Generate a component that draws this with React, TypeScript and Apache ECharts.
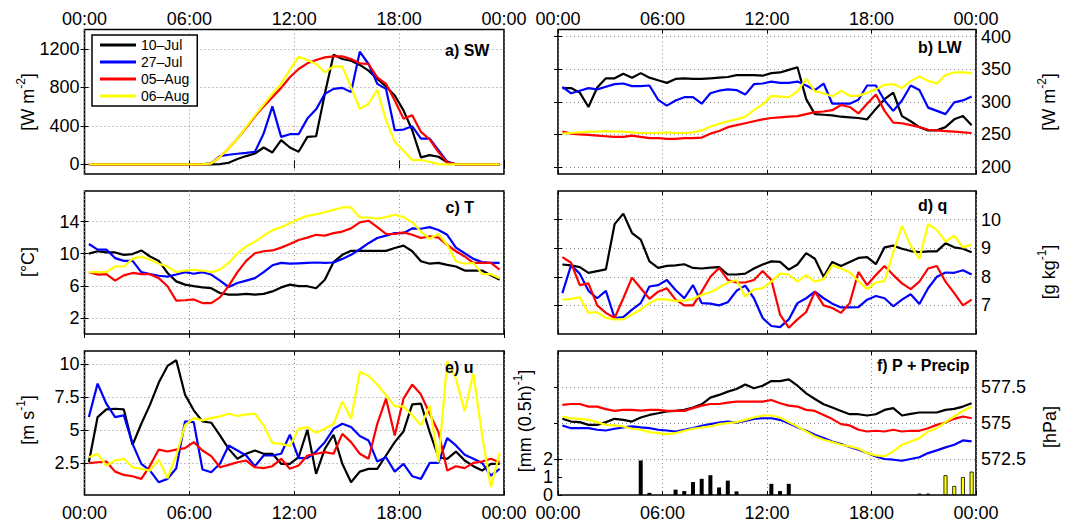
import React, { useEffect, useRef } from 'react';
import * as echarts from 'echarts';

const FONT = "'Liberation Sans', Arial, Helvetica, sans-serif";

const SERIES_NAMES = ['10–Jul', '27–Jul', '05–Aug', '06–Aug'];
const COLORS = ['#000000', '#0000ff', '#ff0000', '#ffff00'];

const TIMES = [0.25, 0.75, 1.25, 1.75, 2.25, 2.75, 3.25, 3.75, 4.25, 4.75, 5.25, 5.75, 6.25, 6.75, 7.25, 7.75,
  8.25, 8.75, 9.25, 9.75, 10.25, 10.75, 11.25, 11.75, 12.25, 12.75, 13.25, 13.75, 14.25, 14.75, 15.25, 15.75,
  16.25, 16.75, 17.25, 17.75, 18.25, 18.75, 19.25, 19.75, 20.25, 20.75, 21.25, 21.75, 22.25, 22.75, 23.25, 23.75];

// a) SW [W m-2]
const SW_10JUL = [0, 0, 0, 0, 0, 0, 0, 0, 0, 0, 0, 0, 0, 0, 0, 3, 17, 55, 86, 113, 175, 124, 251, 175, 131, 285, 292, 732, 1138, 1094, 1076, 1032, 973, 887, 808, 715, 561, 354, 72, 96, 79, 21, 0, 0, 0, 0, 0, 0];
const SW_27JUL = [0, 0, 0, 0, 0, 0, 0, 0, 0, 0, 0, 0, 0, 0, 10, 86, 100, 110, 120, 131, 320, 602, 285, 313, 313, 475, 571, 732, 784, 794, 750, 1169, 1042, 836, 784, 354, 361, 395, 268, 268, 148, 28, 0, 0, 0, 0, 0, 0];
const SW_05AUG = [0, 0, 0, 0, 0, 0, 0, 0, 0, 0, 0, 0, 0, 0, 10, 79, 165, 268, 382, 499, 602, 698, 794, 904, 990, 1049, 1083, 1111, 1121, 1121, 1094, 1049, 1042, 904, 836, 664, 475, 509, 337, 258, 127, 21, 0, 0, 0, 0, 0, 0];
const SW_06AUG = [0, 0, 0, 0, 0, 0, 0, 0, 0, 0, 0, 0, 0, 0, 10, 79, 165, 268, 389, 509, 622, 732, 836, 980, 1118, 1083, 1042, 956, 1018, 1014, 801, 576, 629, 774, 457, 234, 141, 45, 45, 27, 3, 0, 0, 0, 0, 0, 0, 0];

// b) LW [W m-2]
const LW_10JUL = [321, 321, 314, 292, 322, 336, 336, 343, 337, 344, 337, 333, 329, 335, 336, 335, 335, 336, 337, 338, 341, 341, 341, 340, 344, 345, 349, 353, 304, 281, 280, 279, 277, 276, 275, 273, 289, 304, 314, 278, 270, 261, 256, 256, 261, 273, 278, 264];
const LW_27JUL = [323, 313, 317, 321, 319, 323, 327, 328, 324, 324, 325, 303, 294, 302, 307, 307, 297, 313, 317, 319, 318, 311, 327, 328, 331, 329, 329, 331, 325, 318, 328, 297, 297, 297, 303, 325, 325, 302, 286, 302, 325, 318, 291, 286, 281, 299, 302, 308];
const LW_05AUG = [254, 251, 250, 249, 248, 247, 246, 246, 248, 246, 244, 244, 243, 243, 244, 244, 245, 251, 255, 261, 264, 267, 270, 273, 275, 276, 277, 278, 281, 284, 285, 287, 295, 292, 282, 297, 311, 286, 268, 267, 264, 261, 257, 256, 255, 254, 253, 252];
const LW_06AUG = [251, 252, 253, 254, 254, 255, 254, 254, 253, 252, 252, 252, 253, 252, 252, 253, 256, 262, 266, 270, 273, 277, 287, 296, 309, 308, 307, 316, 335, 316, 313, 308, 317, 309, 309, 314, 319, 326, 327, 321, 332, 339, 332, 328, 341, 345, 345, 344];

// c) T [degC]
const T_10JUL = [10.0, 10.3, 10.15, 10.15, 9.85, 9.95, 10.4, 9.65, 9.1, 7.6, 6.55, 6.15, 5.95, 5.8, 5.7, 5.1, 4.9, 4.9, 5.0, 4.9, 5.0, 5.3, 5.8, 6.15, 5.95, 5.95, 5.7, 6.75, 8.95, 9.85, 10.35, 10.35, 10.35, 10.35, 10.35, 10.7, 11.0, 10.3, 9.05, 8.75, 8.85, 8.6, 8.4, 7.9, 7.9, 7.9, 7.3, 6.75];
const T_27JUL = [11.2, 10.5, 10.5, 9.45, 9.1, 9.1, 7.7, 7.45, 7.25, 7.15, 7.4, 7.7, 7.5, 7.7, 7.4, 6.65, 5.85, 6.35, 6.65, 6.95, 7.7, 8.55, 8.85, 8.75, 8.8, 8.85, 8.9, 8.85, 8.9, 9.35, 9.85, 10.55, 11.3, 11.95, 12.25, 12.55, 12.55, 13.15, 13.1, 13.3, 12.95, 12.35, 10.75, 10.05, 9.35, 8.95, 8.85, 8.85];
const T_05AUG = [7.7, 7.4, 7.45, 6.65, 7.3, 7.6, 7.45, 7.45, 6.95, 5.95, 4.15, 4.2, 4.3, 3.85, 3.85, 4.55, 6.0, 7.7, 9.1, 10.05, 10.3, 10.4, 10.75, 11.2, 11.7, 12.0, 12.35, 12.25, 12.55, 12.75, 13.15, 13.9, 14.1, 13.3, 12.45, 12.45, 12.65, 12.35, 11.95, 12.15, 12.0, 11.1, 10.3, 9.65, 8.85, 8.85, 8.85, 8.0];
const T_06AUG = [7.7, 7.7, 7.7, 8.4, 8.4, 9.35, 9.65, 9.25, 8.75, 8.4, 7.7, 7.9, 8.0, 7.9, 7.7, 8.0, 8.85, 10.05, 10.9, 11.5, 12.25, 12.9, 13.3, 13.8, 14.3, 14.7, 14.9, 15.15, 15.45, 15.75, 15.75, 14.5, 14.5, 14.35, 14.55, 14.85, 14.55, 13.9, 12.75, 11.85, 12.45, 11.1, 9.05, 8.75, 8.85, 7.45, 7.45, 6.95];

// d) q [g kg-1]
const Q_10JUL = [8.43, 8.4, 8.34, 8.14, 8.2, 8.26, 9.84, 10.21, 9.53, 9.3, 8.54, 8.31, 8.38, 8.4, 8.44, 8.31, 8.29, 8.32, 8.34, 8.08, 8.08, 8.11, 8.29, 8.43, 8.54, 8.52, 8.25, 8.43, 8.83, 8.63, 8.0, 8.52, 8.38, 8.52, 8.66, 8.69, 8.44, 9.03, 9.09, 8.98, 8.9, 8.86, 8.89, 8.89, 9.17, 9.03, 8.98, 8.86];
const Q_27JUL = [7.43, 8.4, 8.11, 7.51, 7.25, 7.51, 6.56, 6.59, 6.85, 7.08, 7.66, 7.71, 7.89, 7.54, 7.25, 7.71, 7.08, 7.06, 7.0, 7.11, 7.51, 7.69, 7.25, 6.56, 6.28, 6.24, 6.51, 7.08, 7.25, 7.48, 7.25, 7.06, 6.93, 6.93, 6.94, 7.2, 7.33, 7.25, 6.97, 7.2, 7.39, 7.05, 7.6, 8.0, 8.15, 8.14, 8.23, 8.08];
const Q_05AUG = [8.69, 8.49, 7.71, 7.77, 7.0, 6.74, 6.56, 7.25, 7.97, 7.6, 7.23, 7.48, 7.6, 7.2, 7.0, 7.0, 7.48, 8.0, 8.31, 7.89, 7.8, 7.8, 7.89, 8.2, 7.89, 6.68, 6.22, 6.51, 6.77, 7.48, 7.0, 6.91, 6.74, 7.08, 8.17, 7.71, 8.06, 8.38, 8.06, 7.77, 7.57, 7.83, 8.29, 8.38, 7.83, 7.43, 7.0, 7.2];
const Q_06AUG = [7.2, 7.23, 7.28, 6.74, 6.76, 6.56, 6.51, 6.51, 6.68, 6.85, 7.08, 7.22, 7.2, 7.16, 7.17, 7.22, 7.37, 7.46, 7.62, 7.8, 7.89, 7.31, 7.56, 7.6, 7.83, 8.11, 8.08, 7.83, 8.06, 7.83, 7.92, 8.4, 8.29, 8.15, 7.85, 7.57, 7.8, 7.85, 8.86, 9.78, 9.09, 8.63, 9.84, 9.64, 9.23, 9.44, 9.03, 9.13];

// e) u [m s-1]
const U_10JUL = [2.58, 6.0, 6.58, 6.63, 6.58, 3.9, 5.49, 6.94, 8.61, 9.87, 10.3, 7.7, 6.51, 5.67, 5.57, 4.61, 3.59, 2.84, 3.22, 3.47, 3.22, 3.22, 2.46, 2.46, 2.96, 5.04, 1.7, 3.59, 4.66, 2.46, 1.06, 1.87, 2.08, 2.08, 3.09, 4.1, 4.91, 6.96, 7.01, 4.86, 2.96, 2.84, 3.39, 2.71, 2.28, 1.95, 2.46, 2.46];
const U_27JUL = [6.0, 8.53, 7.01, 6.0, 6.13, 3.97, 2.46, 1.95, 1.06, 1.32, 2.13, 5.67, 5.62, 2.03, 1.82, 2.46, 3.85, 3.47, 3.09, 2.28, 3.09, 3.09, 3.22, 4.66, 2.89, 2.89, 3.39, 4.1, 5.11, 5.49, 5.24, 4.56, 4.23, 2.63, 2.96, 1.87, 2.46, 1.52, 1.32, 2.53, 2.53, 4.41, 3.85, 3.14, 2.84, 2.53, 1.57, 2.08];
const U_05AUG = [2.51, 2.58, 2.63, 1.87, 1.62, 1.52, 1.32, 2.33, 3.54, 3.39, 3.54, 3.65, 4.1, 3.47, 3.04, 2.2, 2.38, 2.58, 2.71, 2.2, 2.13, 2.28, 2.84, 2.08, 2.33, 3.09, 3.22, 3.34, 3.22, 4.73, 4.1, 3.22, 2.84, 5.49, 7.39, 4.61, 7.39, 8.46, 7.7, 6.25, 4.86, 1.95, 2.28, 2.13, 2.53, 2.63, 2.84, 2.58];
const U_06AUG = [2.96, 3.22, 2.33, 2.71, 2.84, 2.2, 2.08, 1.95, 2.78, 1.37, 3.09, 5.37, 5.92, 5.75, 5.92, 6.05, 6.25, 6.08, 6.2, 6.25, 5.37, 4.03, 3.97, 3.8, 5.11, 5.24, 4.81, 5.11, 5.49, 7.19, 5.87, 9.42, 9.11, 8.46, 7.65, 6.81, 6.81, 6.13, 5.37, 6.84, 2.58, 10.23, 8.91, 6.43, 9.29, 4.61, 0.68, 3.27];

// f) P [hPa]
const P_10JUL = [575.29, 575.1, 575.06, 574.87, 574.87, 575.06, 575.29, 575.22, 575.1, 575.38, 575.56, 575.68, 575.8, 575.84, 575.91, 576.07, 576.3, 576.76, 576.95, 577.18, 577.36, 577.68, 577.41, 577.59, 577.91, 577.91, 578.03, 577.59, 577.06, 576.67, 576.3, 576.07, 575.84, 575.61, 575.61, 575.52, 575.61, 575.91, 576.03, 575.52, 575.63, 575.73, 575.73, 575.73, 575.91, 575.98, 576.14, 576.37];
const P_27JUL = [574.83, 574.64, 574.64, 574.64, 574.53, 574.48, 574.6, 574.69, 574.76, 574.69, 574.64, 574.53, 574.48, 574.41, 574.53, 574.64, 574.8, 574.92, 575.03, 575.1, 575.03, 575.15, 575.29, 575.33, 575.33, 575.22, 574.99, 574.71, 574.46, 574.18, 573.95, 573.72, 573.54, 573.33, 573.15, 572.91, 572.68, 572.5, 572.45, 572.38, 572.5, 572.62, 572.91, 573.1, 573.31, 573.49, 573.79, 573.72];
const P_05AUG = [576.26, 576.32, 576.32, 576.14, 576.14, 575.96, 575.84, 575.91, 575.91, 575.86, 575.91, 575.91, 575.84, 575.84, 575.84, 576.03, 576.21, 576.32, 576.32, 576.42, 576.49, 576.49, 576.49, 576.49, 576.6, 576.37, 576.21, 576.14, 575.91, 575.84, 575.56, 575.27, 574.92, 574.83, 574.53, 574.41, 574.46, 574.41, 574.53, 574.41, 574.46, 574.46, 574.64, 574.87, 575.03, 575.29, 575.45, 575.33];
const P_06AUG = [575.45, 575.33, 575.29, 575.22, 575.06, 574.87, 574.83, 574.76, 574.6, 574.53, 574.37, 574.3, 574.23, 574.3, 574.46, 574.6, 574.69, 574.76, 574.92, 574.99, 575.06, 575.22, 575.38, 575.52, 575.52, 575.38, 575.06, 574.76, 574.41, 574.07, 573.84, 573.68, 573.49, 573.38, 573.21, 572.91, 572.75, 572.68, 573.03, 573.49, 573.72, 573.95, 574.41, 574.64, 575.06, 575.45, 575.84, 576.14];

// f) Precip [mm (0.5h)-1]
const PRECIP_10JUL_TIMES = [4.75, 5.25, 6.75, 7.25, 7.75, 8.25, 8.75, 9.25, 9.75, 10.25, 12.25, 12.75, 13.25];
const PRECIP_10JUL = [1.92, 0.12, 0.3, 0.22, 0.72, 0.9, 1.1, 0.42, 0.8, 0.2, 0.62, 0.22, 0.62];
const PRECIP_06AUG_TIMES = [20.75, 21.25, 22.25, 22.75, 23.25, 23.75];
const PRECIP_06AUG = [0.08, 0.08, 1.1, 0.5, 1.0, 1.3];

const HOUR_TICK_INTERVAL = 6;

const GRID_LINE = { color: '#8a8a8a', width: 1, type: [1, 3] };

// grid layout: a, b, c, d, e, f
const LAYOUT = [
  { x: 84.5, y: 29.5, w: 419.5, h: 144.5 },
  { x: 558, y: 29.5, w: 418, h: 144.5 },
  { x: 84.5, y: 191, w: 419.5, h: 143 },
  { x: 558, y: 191, w: 418, h: 143 },
  { x: 84.5, y: 351, w: 419.5, h: 144 },
  { x: 558, y: 351, w: 418, h: 144 },
];

const hourFmt = (v: number) => {
  const h = Math.round(v) % 24;
  return (h < 10 ? '0' : '') + h + ':00';
};

function xAxisDef(gridIndex: number, position: string, showLabel: boolean, showSplit: boolean) {
  return {
    type: 'value',
    gridIndex,
    position,
    min: 0,
    max: 24,
    interval: HOUR_TICK_INTERVAL,
    axisLine: { show: false },
    axisTick: { show: true, inside: true, length: 4, lineStyle: { color: '#000', width: 1 } },
    axisLabel: {
      show: showLabel,
      formatter: hourFmt,
      fontSize: 18,
      lineHeight: 16,
      color: '#000',
      fontFamily: FONT,
      margin: position === 'top' ? 3 : 10,
      showMinLabel: true,
      showMaxLabel: true,
    },
    splitLine: { show: showSplit, lineStyle: GRID_LINE },
  };
}

function yAxisDef(gridIndex: number, position: string, min: number, max: number, ticks: number[], showLabel: boolean, showSplit: boolean) {
  return {
    type: 'value',
    gridIndex,
    position,
    min,
    max,
    axisLine: { show: false },
    axisTick: { show: true, inside: true, length: 4, customValues: ticks, lineStyle: { color: '#000', width: 1 } },
    axisLabel: {
      show: showLabel,
      customValues: ticks,
      formatter: (v: number) => String(v),
      fontSize: 18,
      lineHeight: 14,
      color: '#000',
      fontFamily: FONT,
      margin: 5,
    },
    splitLine: { show: showSplit, lineStyle: GRID_LINE },
  };
}

const RICH = {
  n: { fontSize: 18, fontFamily: FONT, color: '#000', lineHeight: 26 },
  s: { fontSize: 12, fontFamily: FONT, color: '#000', lineHeight: 14, verticalAlign: 'top' },
};

function unitText(x: number, y: number, text: string) {
  return {
    type: 'text',
    x,
    y,
    rotation: Math.PI / 2,
    z: 20,
    style: {
      text,
      rich: RICH,
      align: 'center',
      verticalAlign: 'middle',
      textAlign: 'center',
      textVerticalAlign: 'middle',
      fill: '#000',
      fontSize: 18,
      fontFamily: FONT,
    },
  };
}

function panelLabel(x: number, y: number, text: string) {
  return {
    type: 'text',
    x,
    y,
    z: 5,
    style: {
      text,
      fill: '#000',
      fontSize: 16,
      fontWeight: 'bold',
      fontFamily: FONT,
      align: 'left',
      verticalAlign: 'middle',
      textAlign: 'left',
      textVerticalAlign: 'middle',
    },
  };
}

function buildOption() {
  const grids = LAYOUT.map((g) => ({
    left: g.x,
    top: g.y,
    width: g.w,
    height: g.h,
    show: true,
    borderColor: '#000',
    borderWidth: 1.6,
    backgroundColor: 'transparent',
    containLabel: false,
    outerBoundsMode: 'none',
  }));

  const xAxes: any[] = [];
  LAYOUT.forEach((_, i) => {
    const row = Math.floor(i / 2);
    xAxes.push(xAxisDef(i, 'bottom', row === 2, true));
    xAxes.push(xAxisDef(i, 'top', row === 0, false));
  });

  const yAxes = [
    yAxisDef(0, 'left', -100, 1400, [0, 400, 800, 1200], true, true), // 0 a
    yAxisDef(0, 'right', -100, 1400, [0, 400, 800, 1200], false, false), // 1
    yAxisDef(1, 'right', 189, 411, [200, 250, 300, 350, 400], true, true), // 2 b
    yAxisDef(1, 'left', 189, 411, [200, 250, 300, 350, 400], false, false), // 3
    yAxisDef(2, 'left', 0, 17.8, [2, 6, 10, 14], true, true), // 4 c
    yAxisDef(2, 'right', 0, 17.8, [2, 6, 10, 14], false, false), // 5
    yAxisDef(3, 'right', 6, 11, [7, 8, 9, 10], true, true), // 6 d
    yAxisDef(3, 'left', 6, 11, [7, 8, 9, 10], false, false), // 7
    yAxisDef(4, 'left', 0.1, 11, [2.5, 5, 7.5, 10], true, true), // 8 e
    yAxisDef(4, 'right', 0.1, 11, [2.5, 5, 7.5, 10], false, false), // 9
    yAxisDef(5, 'right', 570, 580, [572.5, 575, 577.5], true, true), // 10 f pressure
    yAxisDef(5, 'left', 0, 8, [0, 1, 2], true, false), // 11 f precip
  ];

  const panels = [
    { grid: 0, yAxis: 0, data: [SW_10JUL, SW_27JUL, SW_05AUG, SW_06AUG] },
    { grid: 1, yAxis: 2, data: [LW_10JUL, LW_27JUL, LW_05AUG, LW_06AUG] },
    { grid: 2, yAxis: 4, data: [T_10JUL, T_27JUL, T_05AUG, T_06AUG] },
    { grid: 3, yAxis: 6, data: [Q_10JUL, Q_27JUL, Q_05AUG, Q_06AUG] },
    { grid: 4, yAxis: 8, data: [U_10JUL, U_27JUL, U_05AUG, U_06AUG] },
    { grid: 5, yAxis: 10, data: [P_10JUL, P_27JUL, P_05AUG, P_06AUG] },
  ];

  const series: any[] = [
    {
      type: 'bar',
      name: 'Precip 10–Jul',
      xAxisIndex: 10,
      yAxisIndex: 11,
      data: PRECIP_10JUL_TIMES.map((t, i) => [t, PRECIP_10JUL[i]]),
      barWidth: 4,
      barGap: '-100%',
      itemStyle: { color: '#000' },
      z: 1,
    },
    {
      type: 'bar',
      name: 'Precip 06–Aug',
      xAxisIndex: 10,
      yAxisIndex: 11,
      data: PRECIP_06AUG_TIMES.map((t, i) => [t, PRECIP_06AUG[i]]),
      barWidth: 4,
      barGap: '-100%',
      itemStyle: { color: '#ffff00', borderColor: '#000', borderWidth: 0.8 },
      z: 1,
    },
  ];

  panels.forEach((p) => {
    p.data.forEach((vals, si) => {
      series.push({
        type: 'line',
        name: SERIES_NAMES[si],
        xAxisIndex: p.grid * 2,
        yAxisIndex: p.yAxis,
        data: TIMES.map((t, i) => [t, vals[i]]),
        symbol: 'none',
        showSymbol: false,
        lineStyle: { color: COLORS[si], width: 2.2 },
        itemStyle: { color: COLORS[si] },
        z: 3,
      });
    });
  });

  return {
    animation: false,
    backgroundColor: '#ffffff',
    textStyle: { fontFamily: FONT },
    grid: grids,
    xAxis: xAxes,
    yAxis: yAxes,
    legend: {
      data: SERIES_NAMES.map((n) => ({ name: n, icon: 'rect' })),
      orient: 'vertical',
      left: 92,
      top: 35,
      itemWidth: 36,
      itemHeight: 3,
      itemGap: 3,
      padding: [3, 8, 3, 8],
      backgroundColor: '#ffffff',
      borderColor: '#000',
      borderWidth: 1.5,
      borderRadius: 0,
      selectedMode: false,
      itemStyle: { borderWidth: 0 },
      textStyle: { fontSize: 14, color: '#000', fontFamily: FONT, lineHeight: 14 },
      z: 10,
    },
    series,
    graphic: {
      elements: [
        panelLabel(445, 50, 'a) SW'),
        panelLabel(918, 47, 'b) LW'),
        panelLabel(445.5, 207, 'c) T'),
        panelLabel(918, 205, 'd) q'),
        panelLabel(445, 367, 'e) u'),
        panelLabel(877, 365, 'f) P + Precip'),
        unitText(28, 102, '{n|[W m}{s|-2}{n|]}'),
        unitText(28, 262, '{n|[°C]}'),
        unitText(28, 420, '{n|[m s}{s|-1}{n|]}'),
        unitText(1049, 102, '{n|[W m}{s|-2}{n|]}'),
        unitText(1049, 272, '{n|[g kg}{s|-1}{n|]}'),
        unitText(1050, 427, '{n|[hPa]}'),
        unitText(525, 421, '{n|[mm (0.5h)}{s|-1}{n|]}'),
      ],
    },
  };
}

export default function App() {
  const ref = useRef<HTMLDivElement>(null);
  useEffect(() => {
    if (!ref.current) return;
    const chart = echarts.init(ref.current, undefined, { renderer: 'svg' });
    chart.setOption(buildOption() as any);
    return () => {
      chart.dispose();
    };
  }, []);
  return (
    <div
      ref={ref}
      style={{ position: 'absolute', left: 0, top: 0, width: 1069, height: 523, background: '#fff' }}
    />
  );
}
